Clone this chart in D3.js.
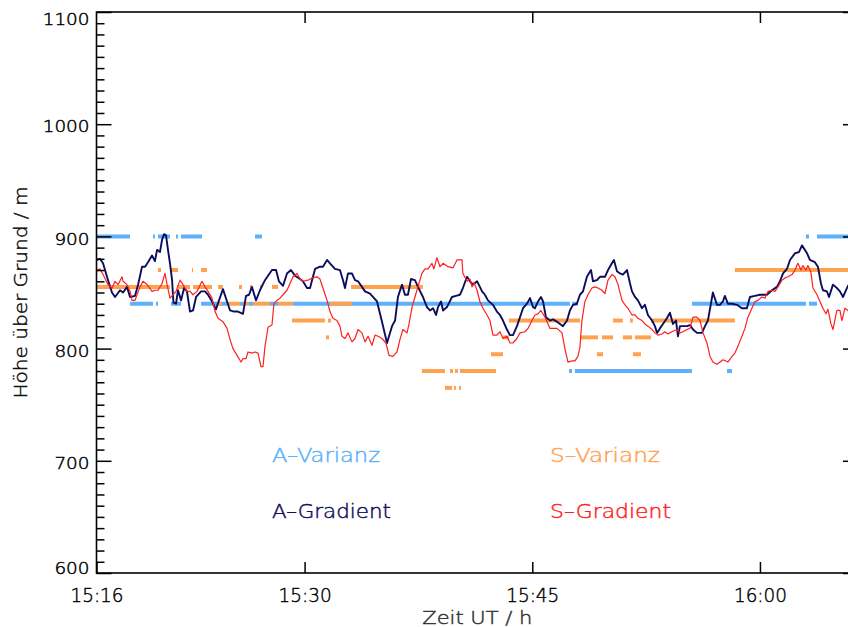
<!DOCTYPE html>
<html>
<head>
<meta charset="utf-8">
<script src="https://cdn.jsdelivr.net/npm/d3@7"></script>
<style>
  html, body { margin: 0; padding: 0; background: #fff; }
  svg { display: block; }
</style>
</head>
<body>
<svg id="chart" width="848" height="627"></svg>
<script>
// Time is given in minutes after 15:00 UT, heights in m above ground.
const timeDomain = [16.29, 66.46];
const heightDomain = [600, 1100];

const xTickValues = [16.29, 30, 45, 60];
const xTickLabels = ["15:16", "15:30", "15:45", "16:00"];
const yMajorTicks = [600, 700, 800, 900, 1000, 1100];
const yMinorStep = 10;

// Mixing-layer height from the gradient method, aerosol backscatter (A) channel
const aGradient = [[16.26,879],[16.52,880],[16.72,876],[17.05,861],[17.31,850],[17.51,846],[17.84,852],[18.04,850],[18.30,855],[18.50,846],[18.83,847],[19.03,857],[19.29,873],[19.49,873],[19.68,877],[19.95,883],[20.14,878],[20.28,888],[20.47,886],[20.61,897],[20.74,902],[20.87,901],[21.00,888],[21.13,876],[21.27,861],[21.36,841],[21.53,840],[21.66,852],[21.86,843],[22.06,854],[22.25,851],[22.45,833],[22.65,834],[22.85,846],[23.18,851],[23.44,851],[23.64,848],[23.90,842],[24.16,835],[24.36,843],[24.62,853],[24.89,842],[25.09,834],[25.35,833],[25.61,833],[25.94,831],[26.14,847],[26.34,848],[26.53,855],[26.80,843],[27.06,852],[27.39,861],[27.59,865],[27.85,870],[28.12,870],[28.31,860],[28.58,856],[28.84,867],[29.10,870],[29.37,865],[29.70,862],[29.89,860],[30.16,854],[30.36,854],[30.49,861],[30.69,871],[31.01,873],[31.21,873],[31.48,879],[31.67,876],[32.00,871],[32.33,870],[32.53,861],[32.66,854],[32.86,867],[33.12,867],[33.32,861],[33.52,860],[33.78,855],[33.98,851],[34.31,849],[34.77,842],[34.97,831],[35.17,820],[35.43,805],[35.56,811],[35.76,820],[35.96,825],[36.15,846],[36.42,857],[36.61,848],[36.81,848],[37.01,862],[37.27,861],[37.47,855],[37.80,846],[38.06,837],[38.26,834],[38.46,836],[38.66,830],[38.79,837],[38.99,842],[39.12,834],[39.38,837],[39.71,846],[39.97,847],[40.24,848],[40.43,854],[40.70,864],[40.90,860],[41.09,857],[41.36,860],[41.55,855],[41.69,851],[41.88,848],[42.08,843],[42.41,839],[42.67,833],[42.87,830],[43.07,825],[43.33,817],[43.53,812],[43.73,812],[43.99,820],[44.19,828],[44.39,836],[44.65,840],[44.85,845],[45.05,837],[45.18,836],[45.38,842],[45.57,846],[45.71,842],[45.90,828],[46.17,825],[46.36,826],[46.63,824],[46.83,822],[47.02,820],[47.29,825],[47.48,834],[47.68,839],[47.94,840],[48.14,848],[48.34,851],[48.60,864],[48.87,870],[49.00,860],[49.26,861],[49.46,864],[49.79,864],[49.99,870],[50.25,876],[50.38,879],[50.58,869],[50.78,867],[50.97,866],[51.24,870],[51.44,858],[51.57,851],[51.77,846],[51.96,843],[52.23,836],[52.42,839],[52.62,830],[52.89,825],[53.08,820],[53.22,814],[53.41,818],[53.61,822],[53.87,827],[54.07,832],[54.27,822],[54.47,825],[54.60,811],[54.73,820],[54.93,820],[55.19,820],[55.39,821],[55.59,817],[55.85,814],[56.18,814],[56.38,820],[56.57,825],[56.77,840],[56.90,850],[57.17,839],[57.37,839],[57.56,842],[57.69,847],[57.89,840],[58.16,840],[58.49,839],[58.81,836],[59.14,836],[59.34,846],[59.67,847],[60.00,848],[60.46,848],[60.79,852],[61.12,855],[61.32,860],[61.52,867],[61.78,871],[61.98,879],[62.31,885],[62.57,886],[62.77,892],[63.10,885],[63.29,879],[63.62,877],[63.82,873],[64.02,858],[64.15,852],[64.41,851],[64.55,846],[64.81,857],[65.07,854],[65.27,851],[65.47,846],[65.80,856],[66.06,857]];

// Mixing-layer height from the gradient method, S channel
const sGradient = [[16.26,870],[16.52,871],[16.72,866],[17.05,857],[17.31,854],[17.51,860],[17.71,857],[17.97,864],[18.04,860],[18.30,857],[18.50,851],[18.63,843],[18.83,843],[18.96,848],[19.16,855],[19.35,860],[19.55,858],[19.68,856],[19.95,851],[20.14,852],[20.34,852],[20.61,858],[20.80,867],[20.94,857],[21.13,845],[21.33,848],[21.53,851],[21.79,861],[21.99,857],[22.25,851],[22.45,851],[22.65,848],[22.91,851],[23.24,860],[23.44,855],[23.64,851],[23.90,845],[24.10,833],[24.30,827],[24.62,824],[24.89,818],[25.09,808],[25.28,800],[25.55,794],[25.81,788],[25.94,791],[26.14,791],[26.27,797],[26.53,796],[26.73,797],[26.93,796],[27.13,784],[27.26,784],[27.39,802],[27.59,819],[27.85,821],[27.98,840],[28.18,843],[28.38,845],[28.58,848],[28.84,852],[29.04,858],[29.24,864],[29.50,867],[29.70,862],[29.89,860],[30.22,861],[30.49,863],[30.82,864],[31.01,862],[31.21,854],[31.48,843],[31.67,833],[31.87,827],[32.13,825],[32.33,820],[32.46,811],[32.66,809],[32.86,814],[33.12,806],[33.32,809],[33.52,817],[33.78,814],[33.98,806],[34.18,811],[34.44,803],[34.64,812],[34.84,811],[35.10,809],[35.36,805],[35.56,794],[35.82,793],[36.09,797],[36.28,808],[36.48,817],[36.75,814],[36.88,822],[37.08,837],[37.27,846],[37.47,855],[37.73,867],[37.93,871],[38.13,871],[38.39,876],[38.52,871],[38.72,881],[38.92,873],[39.12,876],[39.45,873],[39.78,872],[40.04,879],[40.37,879],[40.43,867],[40.70,860],[40.90,862],[41.03,855],[41.16,859],[41.36,852],[41.55,842],[41.75,836],[42.02,830],[42.21,825],[42.41,812],[42.67,812],[42.87,815],[43.07,809],[43.33,811],[43.53,805],[43.73,805],[43.99,809],[44.19,814],[44.52,815],[44.72,818],[44.98,825],[45.18,830],[45.38,831],[45.57,834],[45.84,828],[46.17,818],[46.63,818],[46.96,814],[47.15,800],[47.35,788],[47.62,789],[47.81,789],[48.01,793],[48.14,801],[48.27,825],[48.47,842],[48.67,848],[48.93,854],[49.13,855],[49.33,854],[49.59,852],[49.79,849],[49.99,861],[50.25,866],[50.45,864],[50.65,857],[50.91,843],[51.11,839],[51.30,836],[51.57,830],[51.77,830],[51.96,827],[52.23,825],[52.42,822],[52.62,820],[52.89,817],[53.08,814],[53.28,812],[53.54,813],[53.74,815],[53.94,813],[54.20,815],[54.53,817],[54.73,814],[54.93,815],[55.19,817],[55.39,818],[55.59,828],[55.85,828],[56.05,825],[56.25,814],[56.51,805],[56.71,793],[56.90,788],[57.17,786],[57.37,788],[57.56,790],[57.89,788],[58.16,793],[58.35,796],[58.55,802],[58.81,811],[59.01,818],[59.21,828],[59.47,836],[59.67,842],[59.87,843],[60.13,846],[60.33,845],[60.53,851],[60.79,852],[60.99,851],[61.19,855],[61.45,861],[61.65,863],[61.84,864],[62.11,866],[62.31,870],[62.50,876],[62.70,870],[62.83,874],[63.03,870],[63.16,874],[63.36,868],[63.49,854],[63.76,848],[63.95,842],[64.15,836],[64.35,831],[64.48,835],[64.68,822],[64.81,817],[65.07,834],[65.27,834],[65.40,825],[65.60,836],[65.80,834],[66.06,830]];

// Variance-method heights, held over runs of profiles: [from minute, to minute, height]
const aVarianz = [[16.26,18.50,900],[20.01,20.14,900],[20.34,21.13,900],[21.53,21.66,900],[21.86,23.24,900],[26.73,27.19,900],[63.03,63.23,900],[63.76,66.60,900],
  [18.50,20.01,840],[20.21,20.34,840],[21.20,21.86,840],[23.18,24.23,840],[24.43,24.89,840],[25.74,25.94,840],[26.34,26.60,840],[27.72,28.25,840],[29.24,47.48,840],[47.62,48.01,840],[55.52,63.03,840],[63.23,63.76,840],
  [47.42,47.62,780],[47.81,55.52,780],[57.83,58.16,780]];

const sVarianz = [[20.34,20.54,870],[21.20,21.66,870],[22.58,22.65,870],[23.18,23.57,870],[58.35,66.60,870],
  [16.26,21.13,855],[21.59,22.45,855],[22.65,23.90,855],[24.30,24.62,855],[25.68,25.88,855],[26.40,26.53,855],[27.06,27.19,855],[27.85,28.25,855],[33.06,37.80,855],
  [24.23,24.56,840],[24.89,25.74,840],[25.94,26.34,840],[26.60,27.72,840],[28.25,29.24,840],[31.67,33.12,840],
  [29.17,31.34,825],[31.54,31.74,825],[43.46,48.14,825],[50.32,50.97,825],[51.44,51.63,825],[52.82,58.35,825],
  [31.41,31.61,810],[43.07,43.46,810],[48.14,49.33,810],[49.59,50.32,810],[50.97,51.57,810],[51.77,52.82,810],
  [42.28,43.07,795],[49.26,49.66,795],[51.63,52.16,795],
  [37.73,39.25,780],[39.58,39.78,780],[39.91,40.10,780],[40.24,42.61,780],
  [39.25,39.71,765],[39.84,39.97,765],[40.17,40.30,765]];

const legendLabels = ["A\u2013Varianz", "A\u2013Gradient", "S\u2013Varianz", "S\u2013Gradient"];
const xTitle = "Zeit UT / h";
const yTitle = "H\u00f6he \u00fcber Grund / m";

const colors = {
  aVar: "#5cb1fa",
  sVar: "#ffa24f",
  aGrad: "#0d0d5e",
  sGrad: "#ff1f1f",
  axis: "#000"
};

const W = 848, H = 627;
const plot = { left: 96.5, right: 858, top: 12, bottom: 573 };
const font = "'DejaVu Sans', 'Liberation Sans', sans-serif";
const lightWeight = 200;

// Thin, even-stroked lettering
function lettering(sel, size, color) {
  sel.attr("font-family", font).attr("font-size", size).attr("font-weight", lightWeight)
    .attr("fill", color).attr("stroke", color).attr("stroke-width", 0.45)
    .attr("lengthAdjust", "spacingAndGlyphs");
}

const x = d3.scaleLinear().domain(timeDomain).range([plot.left, plot.right]);
const y = d3.scaleLinear().domain(heightDomain).range([plot.bottom, plot.top]);

const svg = d3.select("#chart");
svg.append("rect").attr("width", W).attr("height", H).attr("fill", "#fff");

svg.append("defs").append("clipPath").attr("id", "plotClip")
  .append("rect")
  .attr("x", plot.left).attr("y", plot.top)
  .attr("width", plot.right - plot.left).attr("height", plot.bottom - plot.top);

const marks = svg.append("g").attr("clip-path", "url(#plotClip)");

function drawSegments(data, color) {
  marks.append("g").selectAll("line").data(data).join("line")
    .attr("x1", d => x(d[0])).attr("x2", d => x(d[1]))
    .attr("y1", d => y(d[2])).attr("y2", d => y(d[2]))
    .attr("stroke", color).attr("stroke-width", 4);
}
drawSegments(aVarianz, colors.aVar);
drawSegments(sVarianz, colors.sVar);

const line = d3.line().x(d => x(d[0])).y(d => y(d[1]));
marks.append("path").datum(aGradient).attr("d", line)
  .attr("fill", "none").attr("stroke", colors.aGrad).attr("stroke-width", 1.9)
  .attr("stroke-linejoin", "round");
marks.append("path").datum(sGradient).attr("d", line)
  .attr("fill", "none").attr("stroke", colors.sGrad).attr("stroke-width", 1.2)
  .attr("stroke-linejoin", "round");

// Frame
svg.append("rect")
  .attr("x", plot.left).attr("y", plot.top)
  .attr("width", plot.right - plot.left).attr("height", plot.bottom - plot.top)
  .attr("fill", "none").attr("stroke", colors.axis).attr("stroke-width", 1.6);

const yMinor = d3.range(heightDomain[0], heightDomain[1] + 1, yMinorStep)
  .filter(v => !yMajorTicks.includes(v));

function styleTicks(g) {
  g.select(".domain").remove();
  g.selectAll(".tick line").attr("stroke", colors.axis).attr("stroke-width", 1.5);
}

// Left axis: minor and major ticks, labels
svg.append("g").attr("transform", `translate(${plot.left},0)`)
  .call(d3.axisLeft(y).tickValues(yMinor).tickSize(-8).tickFormat(""))
  .call(styleTicks);

const yLabelShift = v => v === heightDomain[1] ? "0.8em" : v === heightDomain[0] ? "0em" : "0.48em";
svg.append("g").attr("transform", `translate(${plot.left},0)`)
  .call(d3.axisLeft(y).tickValues(yMajorTicks).tickSize(-15).tickPadding(7).tickFormat(d3.format("d")))
  .call(styleTicks)
  .call(g => g.selectAll(".tick text")
    .call(lettering, 16, "#000")
    .attr("dy", d => yLabelShift(d))
    .attr("textLength", function () { return this.textContent.length * 11.7; }));

// Right axis, ticks only
svg.append("g").attr("transform", `translate(${plot.right},0)`)
  .call(d3.axisRight(y).tickValues(yMinor).tickSize(-8).tickFormat(""))
  .call(styleTicks);
svg.append("g").attr("transform", `translate(${plot.right},0)`)
  .call(d3.axisRight(y).tickValues(yMajorTicks).tickSize(-15).tickFormat(""))
  .call(styleTicks);

// Bottom axis with time labels
svg.append("g").attr("transform", `translate(0,${plot.bottom})`)
  .call(d3.axisBottom(x).tickValues(xTickValues).tickSize(-11).tickPadding(14.5)
    .tickFormat((d, i) => xTickLabels[i]))
  .call(styleTicks)
  .call(g => g.selectAll(".tick text")
    .call(lettering, 20, "#000")
    .attr("textLength", 53));

// Top axis, ticks only
svg.append("g").attr("transform", `translate(0,${plot.top})`)
  .call(d3.axisTop(x).tickValues(xTickValues.slice(1)).tickSize(-11).tickFormat(""))
  .call(styleTicks);

// Axis titles
svg.append("text")
  .attr("x", (plot.left + plot.right) / 2).attr("y", 624)
  .attr("text-anchor", "middle")
  .call(lettering, 18, "#333")
  .attr("textLength", 110)
  .text(xTitle);

svg.append("text")
  .attr("transform", `translate(27,${(plot.top + plot.bottom) / 2}) rotate(-90)`)
  .attr("text-anchor", "middle")
  .call(lettering, 18, "#111")
  .attr("textLength", 212)
  .text(yTitle);

// Legend
const legendItems = [
  { label: legendLabels[0], color: colors.aVar, x: 272, y: 461.5, len: 108 },
  { label: legendLabels[1], color: colors.aGrad, x: 272, y: 517.5, len: 119 },
  { label: legendLabels[2], color: colors.sVar, x: 550, y: 461.5, len: 110 },
  { label: legendLabels[3], color: colors.sGrad, x: 550, y: 517.5, len: 121 }
];
svg.append("g").selectAll("text").data(legendItems).join("text")
  .attr("x", d => d.x).attr("y", d => d.y)
  .each(function (d) { d3.select(this).call(lettering, 20, d.color); })
  .attr("textLength", d => d.len)
  .text(d => d.label);
</script>
</body>
</html>
